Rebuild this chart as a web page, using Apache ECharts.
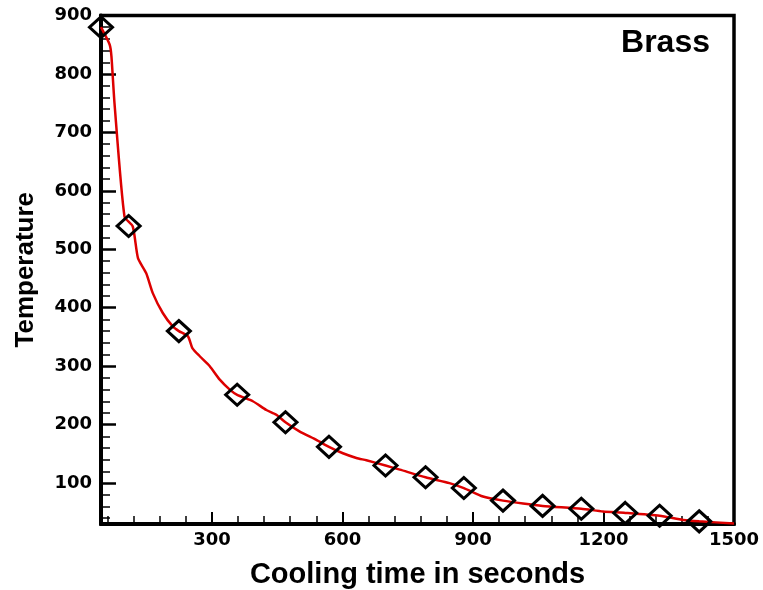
<!DOCTYPE html>
<html><head><meta charset="utf-8">
<script src="https://cdn.jsdelivr.net/npm/echarts@6.0.0/dist/echarts.min.js"></script>
<style>html,body{margin:0;padding:0;background:#fff}#chart{width:763px;height:590px}</style>
</head><body><div id="chart"></div>
<script>
// Simulated cooling curve (red line)
const curveTime = [45, 65, 69, 76, 99, 118, 130, 149, 164, 187, 210, 224, 245, 255, 272, 295, 318, 341, 358, 394, 425, 448, 469, 502, 540, 569, 601, 632, 655, 699, 732, 791, 846, 879, 923, 969, 1015, 1060, 1149, 1199, 1250, 1329, 1383, 1420, 1500];
const curveTemp = [880, 850, 830, 750, 556, 539, 485, 459, 425, 391, 368, 360, 351, 331, 317, 300, 277, 260, 251, 240, 225, 217, 204, 188, 174, 162, 151, 143, 139, 130, 123, 110, 100, 91.5, 77, 70, 65, 61, 56, 51.5, 49, 44, 37, 34.5, 31];
// Measured points (diamonds)
const markerTime = [45, 108.5, 224, 358, 469, 569, 699, 791, 879, 969, 1060, 1149, 1250, 1329, 1420];
const markerTemp = [880, 540, 360, 251, 204, 162, 130, 110, 91.5, 70, 61, 56, 49, 44, 34.5];
// Ticks
const xMajorTicks = [300, 600, 900, 1200, 1500];
const xMinorTicks = [60, 120, 180, 240, 360, 420, 480, 540, 660, 720, 780, 840, 960, 1020, 1080, 1140, 1260, 1320, 1380, 1440];
const yMajorTicks = [100, 200, 300, 400, 500, 600, 700, 800, 900];
const yMinorTicks = [40, 60, 80, 120, 140, 160, 180, 220, 240, 260, 280, 320, 340, 360, 380, 420, 440, 460, 480, 520, 540, 560, 580, 620, 640, 660, 680, 720, 740, 760, 780, 820, 840, 860, 880];
const xTitle = 'Cooling time in seconds';
const yTitle = 'Temperature';
const panelLabel = 'Brass';

const chart = echarts.init(document.getElementById('chart'), null, {renderer: 'canvas'});
const tickFont = {color: '#000', fontFamily: 'DejaVu Sans', fontWeight: 'bold', fontSize: 18, formatter: v => String(v)};
const titleFont = {color: '#000', fontFamily: 'Liberation Sans', fontWeight: 'bold'};

chart.setOption({
  animation: false,
  backgroundColor: '#fff',
  grid: {left: 101, right: 29, top: 15.5, bottom: 66, show: true, borderColor: '#000', borderWidth: 3.5, outerBoundsMode: 'none', containLabel: false},
  xAxis: [
    {
      type: 'value', position: 'bottom', min: 45, max: 1500,
      splitLine: {show: false},
      axisLine: {show: true, onZero: false, lineStyle: {color: '#000', width: 4}},
      axisTick: {show: true, inside: true, length: 12, lineStyle: {color: '#000', width: 2}, customValues: xMajorTicks},
      axisLabel: Object.assign({customValues: xMajorTicks, margin: 7}, tickFont),
      name: xTitle, nameLocation: 'middle', nameGap: 36,
      nameTextStyle: Object.assign({fontSize: 29}, titleFont)
    },
    {
      type: 'value', position: 'bottom', min: 45, max: 1500,
      splitLine: {show: false},
      axisLine: {show: false, onZero: false},
      axisTick: {show: true, inside: true, length: 8, lineStyle: {color: '#000', width: 1.5}, customValues: xMinorTicks},
      axisLabel: {show: false}
    }
  ],
  yAxis: [
    {
      type: 'value', position: 'left', min: 30, max: 900,
      splitLine: {show: false},
      axisLine: {show: true, onZero: false, lineStyle: {color: '#000', width: 4}},
      axisTick: {show: true, inside: true, length: 15, lineStyle: {color: '#000', width: 2.5}, customValues: yMajorTicks},
      axisLabel: Object.assign({customValues: yMajorTicks, margin: 9}, tickFont),
      name: yTitle, nameLocation: 'middle', nameGap: 62, nameRotate: 90,
      nameTextStyle: Object.assign({fontSize: 26}, titleFont)
    },
    {
      type: 'value', position: 'left', min: 30, max: 900,
      splitLine: {show: false},
      axisLine: {show: false, onZero: false},
      axisTick: {show: true, inside: true, length: 9, lineStyle: {color: '#000', width: 1.5}, customValues: yMinorTicks},
      axisLabel: {show: false}
    }
  ],
  graphic: [{
    type: 'text', right: 53, top: 27,
    style: {text: panelLabel, fill: '#000', font: 'bold 32px "Liberation Sans"'}
  }],
  series: [
    {
      type: 'line', xAxisIndex: 0, yAxisIndex: 0,
      data: curveTime.map((t, i) => [t, curveTemp[i]]),
      showSymbol: false, smooth: 0.2,
      lineStyle: {color: '#dd0000', width: 2.5},
      z: 2
    },
    {
      type: 'scatter', xAxisIndex: 0, yAxisIndex: 0, clip: false,
      data: markerTime.map((t, i) => [t, markerTemp[i]]),
      symbol: 'diamond', symbolSize: [23, 21],
      itemStyle: {color: 'rgba(0,0,0,0)', borderColor: '#000', borderWidth: 3, opacity: 1},
      z: 3
    }
  ]
});
</script>
</body></html>
